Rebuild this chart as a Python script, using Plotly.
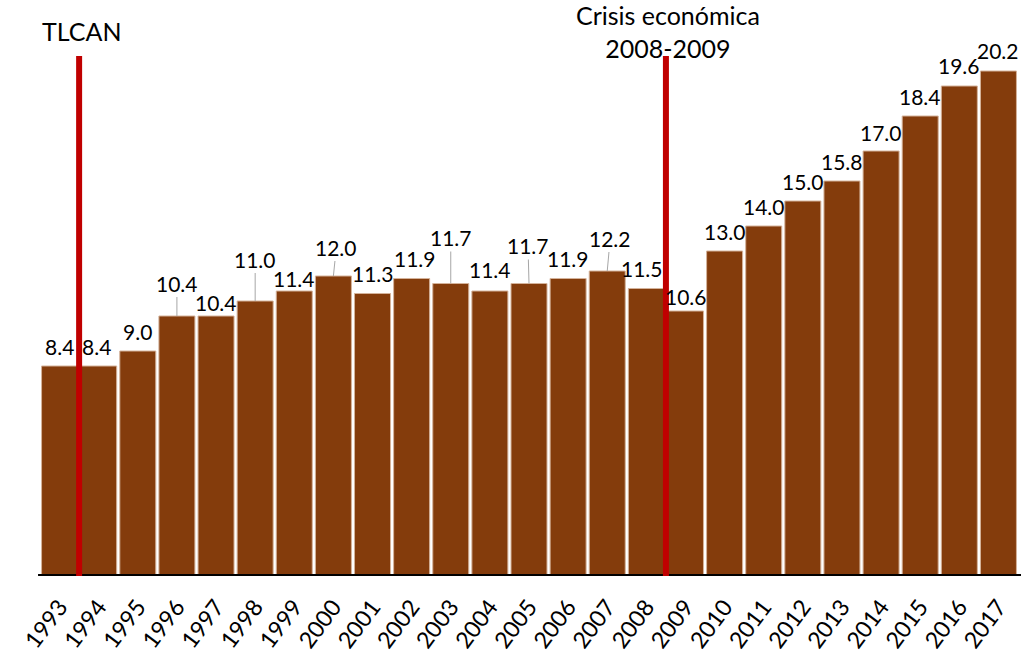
import plotly.graph_objects as go

years = list(range(1993, 2018))
values = [8.4, 8.4, 9.0, 10.4, 10.4, 11.0, 11.4, 12.0, 11.3, 11.9, 11.7, 11.4, 11.7,
          11.9, 12.2, 11.5, 10.6, 13.0, 14.0, 15.0, 15.8, 17.0, 18.4, 19.6, 20.2]
labels = [f"{v:.1f}" for v in values]

event_years = [1993.5, 2008.5]
event_texts = ["TLCAN", "Crisis económica<br>2008-2009"]
event_top = 20.8

# label placement (pixels above bar top, horizontal shift, leader line offset)
label_dy = [20, 20, 20, 33, 14, 42, 13, 29, 20, 20, 46, 22, 38, 20, 33, 20, 15, 20, 20, 20, 20, 19, 20, 21, 21]
label_dx = [0, -2, 0, 0, 0, 0, 0, 0, 0, 3, 0, 0, 0, 0, 0, -4, 1, 0, 0, 0, 0, 0, 0, 0, 0]
leader = [False, False, False, True, False, True, False, True, False, False, True, False, True,
          False, True, False, False, False, False, False, False, False, False, False, False]
leader_ax = {1996: 0, 1998: 0, 2000: 3, 2003: 0, 2005: -1, 2007: 3}

FONT = "Lato"
BAR = "#843C0C"

fig = go.Figure()
fig.add_trace(go.Bar(
    x=years, y=values,
    marker=dict(color=BAR, line=dict(color="#D4B29A", width=1)),
    hoverinfo="x+y",
))

annotations = []
for yr, v, t, dy, dx, ld in zip(years, values, labels, label_dy, label_dx, leader):
    if ld:
        annotations.append(dict(
            x=yr, y=v, xref="x", yref="y", text=t, showarrow=True,
            arrowhead=0, arrowwidth=1, arrowcolor="#A6A6A6", standoff=0,
            ax=leader_ax.get(yr, 0), ay=-dy,
            font=dict(family=FONT, size=21, color="#000000"),
        ))
    else:
        annotations.append(dict(
            x=yr, y=v, xref="x", yref="y", text=t, showarrow=False,
            yanchor="middle", xanchor="center", yshift=dy, xshift=dx,
            font=dict(family=FONT, size=21, color="#000000"),
        ))

for ex, et in zip(event_years, event_texts):
    annotations.append(dict(
        x=ex, y=event_top, xref="x", yref="y", text=et, showarrow=False,
        yanchor="middle", xanchor="center", yshift=25, xshift=2,
        font=dict(family=FONT, size=25, color="#000000"),
    ))

shapes = [dict(type="line", xref="paper", yref="y", x0=-0.002, x1=1.004, y0=0, y1=0,
               line=dict(color="#000000", width=4))]
for ex in event_years:
    shapes.append(dict(type="line", xref="x", yref="y", x0=ex, x1=ex, y0=-0.07, y1=event_top,
                       line=dict(color="#C00000", width=6)))

fig.update_layout(
    width=1021, height=661,
    margin=dict(l=40, r=3, t=20, b=85),
    paper_bgcolor="white", plot_bgcolor="white",
    bargap=0.08,
    showlegend=False,
    annotations=annotations,
    shapes=shapes,
    font=dict(family=FONT, color="#000000"),
    xaxis=dict(
        range=[1992.5, 2017.5], tickmode="array", tickvals=years,
        ticktext=[str(y) for y in years], tickangle=-53,
        tickfont=dict(family=FONT, size=23, color="#000000"),
        showgrid=False, zeroline=False, showline=False, ticks="",
        ticklabelstandoff=12, automargin=False,
    ),
    yaxis=dict(range=[0, 556 / 25], visible=False, showgrid=False, zeroline=False,
               automargin=False),
)

fig.write_html(
    "out.html",
    config={"displayModeBar": False},
    post_script="document.body.style.margin='0px';document.body.style.padding='0px';document.body.style.overflow='hidden';",
)
